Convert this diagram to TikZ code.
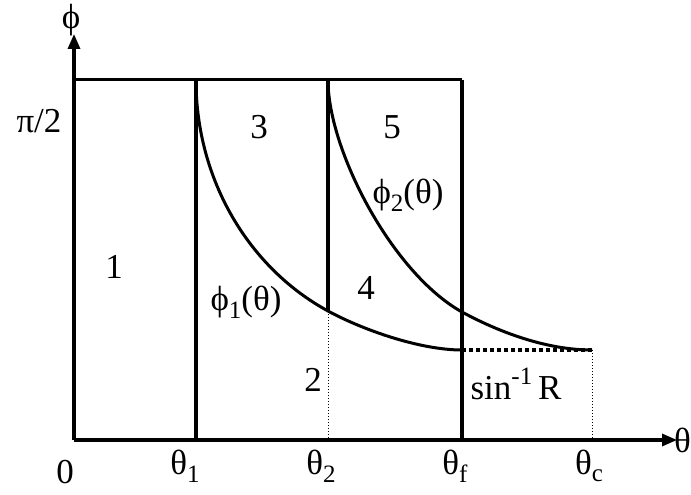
\documentclass[tikz,border=0pt]{standalone}
\usepackage{fontspec}
\setmainfont{Liberation Serif}
\usetikzlibrary{arrows.meta}
\newcommand{\lo}[1]{\raisebox{-0.22em}{\fontsize{25}{25}\selectfont #1}}
\newcommand{\hi}[1]{\raisebox{0.42em}{\fontsize{25}{25}\selectfont #1}}
\begin{document}
\begin{tikzpicture}[x=1pt, y=-1pt, every node/.style={font=\fontsize{35}{38}\selectfont, inner sep=0pt}]
                \useasboundingbox (0,0) rectangle (691,495);
                \coordinate (o) at (74,440);
                \coordinate (t1) at (196,440);
                \coordinate (t2) at (328,440);
                \coordinate (tf) at (462,440);
                \coordinate (tc) at (592,440);
                \coordinate (r) at (462,350);
                \coordinate (rc) at (592,350);

                % axes
                \draw[-{Triangle[width=12pt,length=15pt]}, line width=3.2pt] (o) -- (74,34);
                \draw[-{Triangle[width=12pt,length=15pt]}, line width=3.2pt] (o) -- (677,440);
                \node (phi) at (71,20) {ϕ};
                \node[anchor=east] (theta) at (691,440) {θ};

                % region borders
                \draw[line width=3pt] (74,80) -- (462,80);
                \draw[line width=3.2pt] (196,80) -- (t1);
                \draw[line width=3.2pt] (328,80) -- (328,311);
                \draw[line width=3.2pt] (462,80) -- (tf);
                \draw[dotted, line width=1pt] (328,311) -- (t2);
                \draw[dotted, line width=1pt] (rc) -- (tc);
                \draw[dash pattern=on 4pt off 3pt, line width=3.8pt] (r) -- (rc);

                % curves
                \draw[line width=3pt] (196,80) .. controls (196,180) and (249,268) .. (328,311)
                    .. controls (363,330) and (420,350) .. (r);
                \draw[line width=3pt] (328,80) .. controls (328,150) and (392,273) .. (462,312)
                    .. controls (497,331) and (545,350) .. (rc);

                % labels
                \node (pi2) at (39,121) {π/2};
                \node (reg1) at (114,267) {1};
                \node (reg2) at (313,380) {2};
                \node (reg3) at (259,127) {3};
                \node (reg4) at (366,288) {4};
                \node (reg5) at (392,127) {5};
                \node (phione) at (246,302) {ϕ\lo{1}(θ)};
                \node (phitwo) at (408,195) {ϕ\lo{2}(θ)};
                \node (asin) at (516,384) {sin\hi{-1}\,R};
                \node (zero) at (65,472) {0};
                \node (th1) at (185,466) {θ\lo{1}};
                \node (th2) at (321,466) {θ\lo{2}};
                \node (thf) at (455,466) {θ\lo{f}};
                \node (thc) at (589,466) {θ\lo{c}};
            \end{tikzpicture}
\end{document}
